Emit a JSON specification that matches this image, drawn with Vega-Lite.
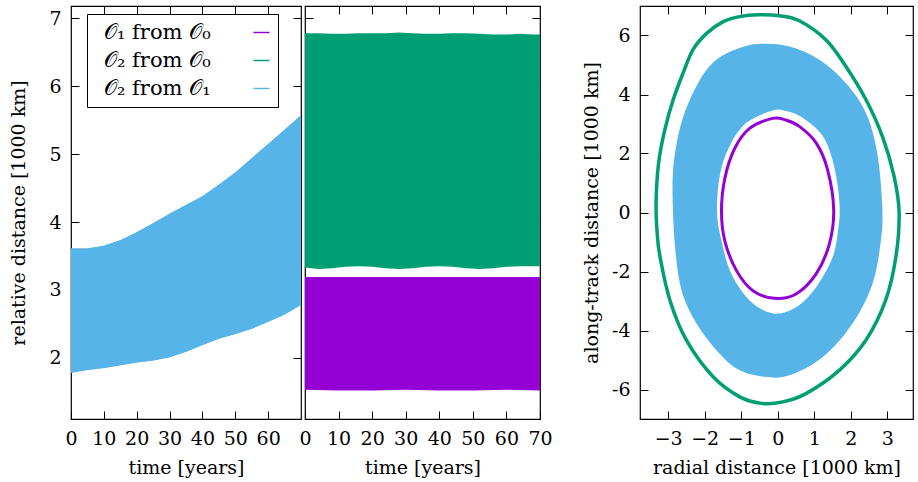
{
  "$schema": "https://vega.github.io/schema/vega-lite/v6.json",
  "padding": {"left": 9, "top": 4, "right": 4, "bottom": 4},
  "background": "white",
  "config": {
    "font": "DejaVu Serif",
    "view": {"stroke": "#000", "strokeWidth": 1.2},
    "axis": {"domain": false, "grid": false, "tickColor": "#000", "tickSize": -8, "tickWidth": 1, "labelPadding": 18,
      "labelColor": "#000", "titleColor": "#000", "labelFont": "DejaVu Serif", "titleFont": "DejaVu Serif",
      "labelFontSize": 19, "titleFontSize": 19, "titleFontWeight": "normal", "titlePadding": 10, "labelFlush": false, "labelOverlap": false},
    "legend": {"labelFont": "DejaVu Serif", "labelFontSize": 21, "labelColor": "#000"}
  },
  "datasets": {
    "p1": [
      {"t": 0, "lo": 1.78, "hi": 3.61, "series": "𝒪₂ from 𝒪₁"},
      {"t": 5, "lo": 1.82, "hi": 3.61, "series": "𝒪₂ from 𝒪₁"},
      {"t": 10, "lo": 1.85, "hi": 3.65, "series": "𝒪₂ from 𝒪₁"},
      {"t": 15, "lo": 1.89, "hi": 3.73, "series": "𝒪₂ from 𝒪₁"},
      {"t": 20, "lo": 1.93, "hi": 3.85, "series": "𝒪₂ from 𝒪₁"},
      {"t": 25, "lo": 1.96, "hi": 3.98, "series": "𝒪₂ from 𝒪₁"},
      {"t": 30, "lo": 2.01, "hi": 4.12, "series": "𝒪₂ from 𝒪₁"},
      {"t": 35, "lo": 2.09, "hi": 4.25, "series": "𝒪₂ from 𝒪₁"},
      {"t": 40, "lo": 2.19, "hi": 4.38, "series": "𝒪₂ from 𝒪₁"},
      {"t": 45, "lo": 2.28, "hi": 4.55, "series": "𝒪₂ from 𝒪₁"},
      {"t": 50, "lo": 2.35, "hi": 4.73, "series": "𝒪₂ from 𝒪₁"},
      {"t": 55, "lo": 2.43, "hi": 4.94, "series": "𝒪₂ from 𝒪₁"},
      {"t": 60, "lo": 2.53, "hi": 5.15, "series": "𝒪₂ from 𝒪₁"},
      {"t": 65, "lo": 2.64, "hi": 5.36, "series": "𝒪₂ from 𝒪₁"},
      {"t": 70, "lo": 2.78, "hi": 5.57, "series": "𝒪₂ from 𝒪₁"}
    ],
    "p2g": [
      {"t": 0, "lo": 3.33, "hi": 6.78}, {"t": 4, "lo": 3.31, "hi": 6.78}, {"t": 8, "lo": 3.32, "hi": 6.77},
      {"t": 12, "lo": 3.34, "hi": 6.77}, {"t": 16, "lo": 3.35, "hi": 6.78}, {"t": 20, "lo": 3.34, "hi": 6.78},
      {"t": 24, "lo": 3.32, "hi": 6.78}, {"t": 28, "lo": 3.31, "hi": 6.79}, {"t": 32, "lo": 3.32, "hi": 6.78},
      {"t": 36, "lo": 3.34, "hi": 6.77}, {"t": 40, "lo": 3.35, "hi": 6.77}, {"t": 44, "lo": 3.34, "hi": 6.78},
      {"t": 48, "lo": 3.32, "hi": 6.78}, {"t": 52, "lo": 3.31, "hi": 6.77}, {"t": 56, "lo": 3.32, "hi": 6.76},
      {"t": 60, "lo": 3.34, "hi": 6.76}, {"t": 64, "lo": 3.35, "hi": 6.77}, {"t": 68, "lo": 3.35, "hi": 6.76},
      {"t": 70, "lo": 3.35, "hi": 6.76}
    ],
    "p2p": [
      {"t": 0, "lo": 1.53, "hi": 3.19}, {"t": 10, "lo": 1.52, "hi": 3.19}, {"t": 20, "lo": 1.52, "hi": 3.19},
      {"t": 30, "lo": 1.53, "hi": 3.19}, {"t": 40, "lo": 1.52, "hi": 3.19}, {"t": 50, "lo": 1.52, "hi": 3.19},
      {"t": 60, "lo": 1.53, "hi": 3.19}, {"t": 70, "lo": 1.52, "hi": 3.19}
    ],
    "green": [
      {"i": 0, "x": 3.32, "y": 0.0}, {"i": 1, "x": 3.18, "y": 1.24}, {"i": 2, "x": 2.86, "y": 2.59},
      {"i": 3, "x": 2.41, "y": 3.83}, {"i": 4, "x": 1.86, "y": 4.96}, {"i": 5, "x": 1.32, "y": 5.85},
      {"i": 6, "x": 0.59, "y": 6.5}, {"i": 7, "x": 0.05, "y": 6.67}, {"i": 8, "x": -0.54, "y": 6.7},
      {"i": 9, "x": -1.04, "y": 6.64}, {"i": 10, "x": -1.49, "y": 6.47}, {"i": 11, "x": -1.94, "y": 6.08},
      {"i": 12, "x": -2.32, "y": 5.52}, {"i": 13, "x": -2.59, "y": 4.73}, {"i": 14, "x": -2.86, "y": 3.83},
      {"i": 15, "x": -3.09, "y": 2.81}, {"i": 16, "x": -3.26, "y": 1.69}, {"i": 17, "x": -3.33, "y": 0.34},
      {"i": 18, "x": -3.3, "y": -0.7}, {"i": 19, "x": -3.22, "y": -1.52}, {"i": 20, "x": -2.95, "y": -2.98},
      {"i": 21, "x": -2.5, "y": -4.33}, {"i": 22, "x": -1.77, "y": -5.57}, {"i": 23, "x": -1.04, "y": -6.25},
      {"i": 24, "x": -0.45, "y": -6.47}, {"i": 25, "x": 0.14, "y": -6.42}, {"i": 26, "x": 0.77, "y": -6.14},
      {"i": 27, "x": 1.68, "y": -5.35}, {"i": 28, "x": 2.41, "y": -4.33}, {"i": 29, "x": 2.95, "y": -2.98},
      {"i": 30, "x": 3.23, "y": -1.52}
    ],
    "blueOut": [
      {"i": 0, "x": 2.86, "y": 0.2}, {"i": 1, "x": 2.72, "y": 2.03}, {"i": 2, "x": 2.41, "y": 3.38},
      {"i": 3, "x": 1.86, "y": 4.39}, {"i": 4, "x": 1.14, "y": 5.18}, {"i": 5, "x": 0.32, "y": 5.63},
      {"i": 6, "x": -0.5, "y": 5.72}, {"i": 7, "x": -1.1, "y": 5.55}, {"i": 8, "x": -1.68, "y": 5.18},
      {"i": 9, "x": -2.13, "y": 4.5}, {"i": 10, "x": -2.58, "y": 3.27}, {"i": 11, "x": -2.81, "y": 2.03},
      {"i": 12, "x": -2.88, "y": 0.79}, {"i": 13, "x": -2.81, "y": -1.18}, {"i": 14, "x": -2.63, "y": -2.65},
      {"i": 15, "x": -2.22, "y": -3.77}, {"i": 16, "x": -1.59, "y": -4.79}, {"i": 17, "x": -1.04, "y": -5.35},
      {"i": 18, "x": -0.36, "y": -5.57}, {"i": 19, "x": 0.32, "y": -5.52}, {"i": 20, "x": 1.23, "y": -4.9},
      {"i": 21, "x": 2.04, "y": -3.77}, {"i": 22, "x": 2.59, "y": -2.42}, {"i": 23, "x": 2.82, "y": -0.96}
    ],
    "blueIn": [
      {"i": 0, "x": 1.69, "y": 0.3}, {"i": 1, "x": 1.54, "y": 1.58}, {"i": 2, "x": 1.23, "y": 2.59},
      {"i": 3, "x": 0.68, "y": 3.21}, {"i": 4, "x": 0.23, "y": 3.44}, {"i": 5, "x": -0.14, "y": 3.46},
      {"i": 6, "x": -0.86, "y": 3.04}, {"i": 7, "x": -1.32, "y": 2.25}, {"i": 8, "x": -1.59, "y": 1.24},
      {"i": 9, "x": -1.66, "y": 0.0}, {"i": 10, "x": -1.54, "y": -0.96}, {"i": 11, "x": -1.27, "y": -2.08},
      {"i": 12, "x": -0.77, "y": -2.98}, {"i": 13, "x": -0.13, "y": -3.42}, {"i": 14, "x": 0.5, "y": -3.21},
      {"i": 15, "x": 1.05, "y": -2.53}, {"i": 16, "x": 1.5, "y": -1.52}, {"i": 17, "x": 1.65, "y": -0.6}
    ],
    "purple": [
      {"i": 0, "x": 1.53, "y": 0.1}, {"i": 1, "x": 1.36, "y": 1.46}, {"i": 2, "x": 1.05, "y": 2.36},
      {"i": 3, "x": 0.59, "y": 2.92}, {"i": 4, "x": 0.23, "y": 3.13}, {"i": 5, "x": -0.14, "y": 3.19},
      {"i": 6, "x": -0.77, "y": 2.85}, {"i": 7, "x": -1.18, "y": 2.17}, {"i": 8, "x": -1.45, "y": 1.15},
      {"i": 9, "x": -1.54, "y": 0.05}, {"i": 10, "x": -1.45, "y": -0.96}, {"i": 11, "x": -1.13, "y": -1.97},
      {"i": 12, "x": -0.68, "y": -2.65}, {"i": 13, "x": -0.09, "y": -2.91}, {"i": 14, "x": 0.5, "y": -2.76},
      {"i": 15, "x": 1.05, "y": -2.08}, {"i": 16, "x": 1.41, "y": -1.07}
    ]
  },
  "hconcat": [
    {
      "hconcat": [
        {
          "width": 230, "height": 413,
          "data": {"name": "p1"},
          "layer": [
            {
              "mark": {"type": "area"},
              "encoding": {
                "x": {"field": "t", "type": "quantitative", "scale": {"domain": [0, 70], "nice": false},
                  "axis": {"values": [0, 10, 20, 30, 40, 50, 60], "title": "time [years]"}},
                "y": {"field": "lo", "type": "quantitative", "stack": null, "scale": {"domain": [1.1, 7.18], "nice": false, "zero": false},
                  "axis": {"values": [2, 3, 4, 5, 6, 7], "title": "relative distance [1000 km]", "titlePadding": 20}},
                "y2": {"field": "hi"},
                "color": {"field": "series", "type": "nominal",
                  "scale": {"domain": ["𝒪₁ from 𝒪₀", "𝒪₂ from 𝒪₀", "𝒪₂ from 𝒪₁"], "range": ["#9400d3", "#009e73", "#56b4e9"]},
                  "legend": {"title": null, "orient": "none", "legendX": 16, "legendY": 8,
                    "symbolType": "M-1,-0.09L1,-0.09L1,0.09L-1,0.09Z",
                    "symbolSize": 256, "symbolStrokeWidth": 0, "fillColor": "white", "strokeColor": "#000",
                    "padding": 8, "rowPadding": 6, "labelOffset": -168, "symbolOffset": 156}}
              }
            },
            {
              "mark": {"type": "area", "color": "#56b4e9"},
              "encoding": {
                "x": {"field": "t", "type": "quantitative", "axis": {"orient": "top", "values": [10, 20, 30, 40, 50, 60], "labels": false, "title": null, "labelPadding": 0}},
                "y": {"field": "lo", "type": "quantitative", "stack": null, "axis": {"orient": "right", "values": [2, 3, 4, 5, 6, 7], "labels": false, "title": null, "labelPadding": 0}},
                "y2": {"field": "hi"}
              }
            }
          ],
          "resolve": {"axis": {"x": "independent", "y": "independent"}}
        },
        {
          "width": 235, "height": 413,
          "layer": [
            {
              "data": {"name": "p2g"},
              "mark": {"type": "area", "color": "#009e73"},
              "encoding": {
                "x": {"field": "t", "type": "quantitative", "scale": {"domain": [0, 70], "nice": false},
                  "axis": {"values": [0, 10, 20, 30, 40, 50, 60, 70], "title": "time [years]"}},
                "y": {"field": "lo", "type": "quantitative", "stack": null, "scale": {"domain": [1.1, 7.18], "nice": false, "zero": false},
                  "axis": {"values": [2, 3, 4, 5, 6, 7], "labels": false, "title": null, "labelPadding": 0}},
                "y2": {"field": "hi"}
              }
            },
            {
              "data": {"name": "p2p"},
              "mark": {"type": "area", "color": "#9400d3"},
              "encoding": {
                "x": {"field": "t", "type": "quantitative", "axis": {"orient": "top", "values": [10, 20, 30, 40, 50, 60], "labels": false, "title": null, "labelPadding": 0}},
                "y": {"field": "lo", "type": "quantitative", "stack": null, "axis": {"orient": "right", "values": [2, 3, 4, 5, 6, 7], "labels": false, "title": null, "labelPadding": 0}},
                "y2": {"field": "hi"}
              }
            }
          ],
          "resolve": {"axis": {"x": "independent", "y": "independent"}}
        }
      ],
      "spacing": -5,
      "resolve": {"scale": {"color": "independent"}, "legend": {"color": "independent"}}
    },
    {
      "width": 273, "height": 413,
      "layer": [
        {
          "data": {"name": "green"},
          "mark": {"type": "line", "color": "#009e73", "strokeWidth": 3.5, "interpolate": "cardinal-closed"},
          "encoding": {
            "x": {"field": "x", "type": "quantitative", "scale": {"domain": [-3.77, 3.7], "nice": false, "zero": false},
              "axis": {"values": [-3, -2, -1, 0, 1, 2, 3], "title": "radial distance [1000 km]"}},
            "y": {"field": "y", "type": "quantitative", "scale": {"domain": [-7, 7], "nice": false, "zero": false},
              "axis": {"values": [-6, -4, -2, 0, 2, 4, 6], "title": "along-track distance [1000 km]", "labelExpr": "replace(datum.label, '−', '-')"}},
            "order": {"field": "i", "type": "quantitative"}
          }
        },
        {
          "data": {"name": "blueOut"},
          "mark": {"type": "line", "filled": true, "color": "#56b4e9", "interpolate": "cardinal-closed"},
          "encoding": {
            "x": {"field": "x", "type": "quantitative", "axis": null},
            "y": {"field": "y", "type": "quantitative", "axis": null},
            "order": {"field": "i", "type": "quantitative"}
          }
        },
        {
          "data": {"name": "blueIn"},
          "mark": {"type": "line", "filled": true, "color": "white", "interpolate": "cardinal-closed"},
          "encoding": {
            "x": {"field": "x", "type": "quantitative", "axis": null},
            "y": {"field": "y", "type": "quantitative", "axis": null},
            "order": {"field": "i", "type": "quantitative"}
          }
        },
        {
          "data": {"name": "purple"},
          "mark": {"type": "line", "color": "#9400d3", "strokeWidth": 3, "interpolate": "cardinal-closed"},
          "encoding": {
            "x": {"field": "x", "type": "quantitative", "axis": {"orient": "top", "values": [-3, -2, -1, 0, 1, 2, 3], "labels": false, "title": null, "labelPadding": 0}},
            "y": {"field": "y", "type": "quantitative", "axis": {"orient": "right", "values": [-6, -4, -2, 0, 2, 4, 6], "labels": false, "title": null, "labelPadding": 0}},
            "order": {"field": "i", "type": "quantitative"}
          }
        }
      ],
      "resolve": {"axis": {"x": "independent", "y": "independent"}}
    }
  ],
  "spacing": 28
}
